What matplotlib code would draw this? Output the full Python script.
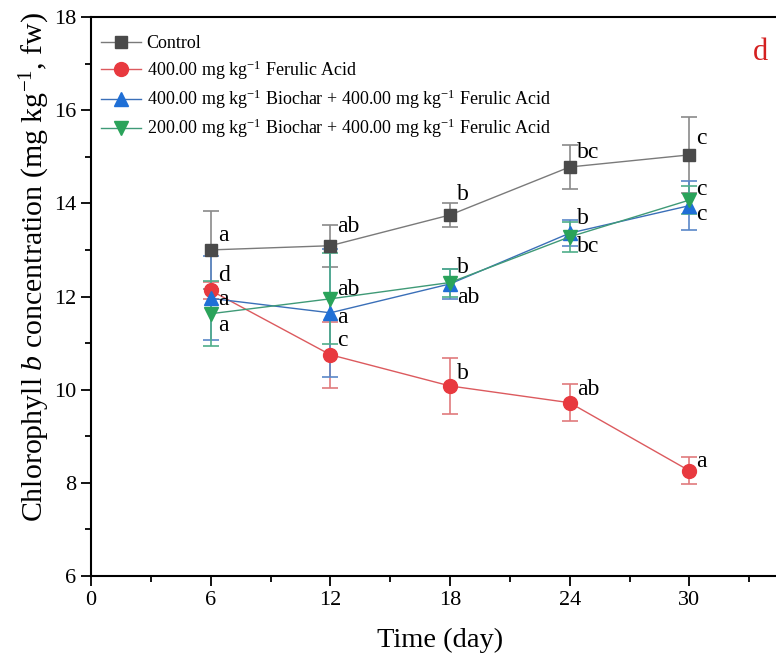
import matplotlib
matplotlib.use("Agg")
import matplotlib.pyplot as plt
from matplotlib.ticker import MultipleLocator

plt.rcParams['font.family'] = ['Liberation Serif', 'DejaVu Serif']
plt.rcParams['mathtext.fontset'] = 'custom'
plt.rcParams['mathtext.rm'] = 'Liberation Serif'
plt.rcParams['mathtext.it'] = 'Liberation Serif:italic'

days = [6, 12, 18, 24, 30]
xticks = [0, 6, 12, 18, 24, 30]
labels = ["Control",
          "400.00 mg kg$^{-1}$ Ferulic Acid",
          "400.00 mg kg$^{-1}$ Biochar + 400.00 mg kg$^{-1}$ Ferulic Acid",
          "200.00 mg kg$^{-1}$ Biochar + 400.00 mg kg$^{-1}$ Ferulic Acid"]
control = [13.00, 13.09, 13.75, 14.78, 15.04]
control_err = [0.83, 0.45, 0.25, 0.48, 0.82]
ferulic = [12.13, 10.75, 10.08, 9.72, 8.26]
ferulic_err = [0.18, 0.71, 0.60, 0.40, 0.29]
bio400 = [11.96, 11.65, 12.27, 13.36, 13.95]
bio400_err = [0.90, 1.38, 0.33, 0.28, 0.53]
bio200 = [11.63, 11.95, 12.30, 13.28, 14.07]
bio200_err = [0.70, 0.98, 0.30, 0.32, 0.30]

control_let = ["a", "ab", "b", "bc", "c"]
control_let_y = [13.30, 13.50, 14.20, 15.10, 15.40]
ferulic_let = ["d", "c", "b", "ab", "a"]
ferulic_let_y = [12.45, 11.05, 10.35, 10.00, 8.45]
bio400_let = ["a", "a", "b", "b", "c"]
bio400_let_y = [11.93, 11.55, 12.62, 13.68, 13.77]
bio200_let = ["a", "ab", "ab", "bc", "c"]
bio200_let_y = [11.37, 12.16, 11.97, 13.08, 14.29]

series = [
    (control, control_err, control_let, control_let_y, 's', '#4a4a4a', '#7a7a7a', '#8a8a8a', 8),
    (ferulic, ferulic_err, ferulic_let, ferulic_let_y, 'o', '#e8393f', '#dc5a5e', '#e07a7d', 10),
    (bio400, bio400_err, bio400_let, bio400_let_y, '^', '#1f6fd6', '#3a6fb8', '#5a88c8', 10),
    (bio200, bio200_err, bio200_let, bio200_let_y, 'v', '#2aa35a', '#3f9a77', '#4fae8a', 10),
]

fig = plt.figure(figsize=(7.76, 6.59), dpi=100)
ax = fig.add_axes([91/776, 1-576/659, 718/776, (576-17)/659])

for (vals, errs, lets, lety, mk, mc, lc, ec, ms), lab in zip(series, labels):
    ax.errorbar(days, vals, yerr=errs, fmt='none', ecolor=ec, elinewidth=1.2,
                capsize=6, capthick=1.2, zorder=2)
    ax.plot(days, vals, color=lc, linewidth=1.0, marker=mk, markersize=ms,
            markerfacecolor=mc, markeredgecolor=mc, label=lab, zorder=3)
    for d, t, yy in zip(days, lets, lety):
        ax.text(d + 0.35, yy, t, fontsize=17, color='black', ha='left', va='center', zorder=4)

ax.set_xlim(0, 36)
ax.set_ylim(6, 18)
ax.set_xticks(xticks)
ax.xaxis.set_minor_locator(MultipleLocator(3))
ax.yaxis.set_major_locator(MultipleLocator(2))
ax.yaxis.set_minor_locator(MultipleLocator(1))
ax.tick_params(which='major', direction='out', length=7, width=1.3, labelsize=16)
ax.tick_params(which='minor', direction='out', length=4, width=1.3)
ax.tick_params(top=False, right=False)
for s in ax.spines.values():
    s.set_linewidth(1.5)

ax.set_xlabel("Time (day)", fontsize=20.5)
ax.set_ylabel("Chlorophyll $\\it{b}$ concentration (mg kg$^{-1}$, fw)", fontsize=21.5)
ax.xaxis.set_label_coords((440-91)/718, -(640-576)/559)
ax.yaxis.set_label_coords((35-91)/718, 1-(267-17)/559)
ax.xaxis.label.set_va('center')
ax.yaxis.label.set_va('center')

leg = ax.legend(loc='upper left', bbox_to_anchor=(-0.003, 0.99), frameon=False, fontsize=13,
                handlelength=2.2, handletextpad=0.3, labelspacing=0.33, borderaxespad=0.3)

fig.text(760/776, 1-52/659, "d", color='#d42020', fontsize=22, ha='center', va='center')

fig.savefig("out.png", dpi=100)
